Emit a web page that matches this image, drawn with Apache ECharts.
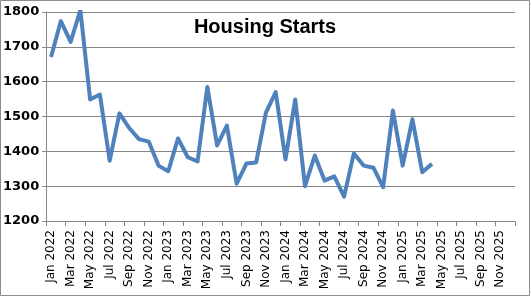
<!DOCTYPE html>
<html>
<head>
<meta charset="utf-8">
<script src="https://cdn.jsdelivr.net/npm/echarts@6/dist/echarts.min.js"></script>
<style>html,body{margin:0;padding:0;background:#fff}#c{width:531px;height:297px}</style>
</head>
<body>
<div id="c"></div>
<script>
const years = [2022, 2023, 2024, 2025];
const monthNames = ['Jan','Feb','Mar','Apr','May','Jun','Jul','Aug','Sep','Oct','Nov','Dec'];
const categories = [];
years.forEach(y => monthNames.forEach(m => categories.push(m + ' ' + y)));
const housingStarts = [
  1671, 1774, 1714, 1805, 1549, 1563, 1373, 1509, 1467, 1435, 1428, 1359,
  1343, 1437, 1383, 1371, 1585, 1417, 1474, 1307, 1365, 1368, 1511, 1570,
  1377, 1549, 1300, 1388, 1316, 1328, 1270, 1394, 1359, 1353, 1297, 1517,
  1359, 1492, 1340, 1364
];
const yTicks = { min: 1200, max: 1800, interval: 100 };

const chart = echarts.init(document.getElementById('c'), null, { renderer: 'canvas' });
chart.setOption({
  animation: false,
  backgroundColor: '#fff',
  grid: { left: 45, right: 16, top: 12, bottom: 76, containLabel: false },
  graphic: [
    { type: 'rect', shape: { x: 0.5, y: 0.5, width: 529, height: 295 },
      style: { fill: 'none', stroke: '#8c8c8c', lineWidth: 1 }, silent: true },
    { type: 'text', x: 265, y: 27, z: 10,
      style: { text: 'Housing Starts', textAlign: 'center', textVerticalAlign: 'middle',
        font: 'bold 20px "Liberation Sans", Arial, sans-serif', fill: '#000' } }
  ],
  xAxis: {
    type: 'category',
    data: categories,
    boundaryGap: true,
    axisLine: { lineStyle: { color: '#868686', width: 1 } },
    axisTick: { show: true, interval: 1, length: 5, lineStyle: { color: '#868686' } },
    axisLabel: { interval: 1, rotate: 90, margin: 9, color: '#000',
      fontFamily: '"DejaVu Sans", sans-serif', fontSize: 12 },
    splitLine: { show: false }
  },
  yAxis: {
    type: 'value',
    min: yTicks.min, max: yTicks.max, interval: yTicks.interval,
    axisLine: { show: true, lineStyle: { color: '#868686', width: 1 } },
    axisTick: { show: true, length: 4, lineStyle: { color: '#868686' } },
    axisLabel: { color: '#000', fontWeight: 'bold', fontSize: 13, margin: 7,
      fontFamily: '"DejaVu Sans", sans-serif', formatter: v => String(v) },
    splitLine: { lineStyle: { color: '#868686', width: 1 } }
  },
  series: [{
    type: 'line',
    data: housingStarts,
    symbol: 'none',
    clip: true,
    lineStyle: { color: '#4F81BD', width: 4, join: 'round' }
  }]
});
</script>
</body>
</html>
